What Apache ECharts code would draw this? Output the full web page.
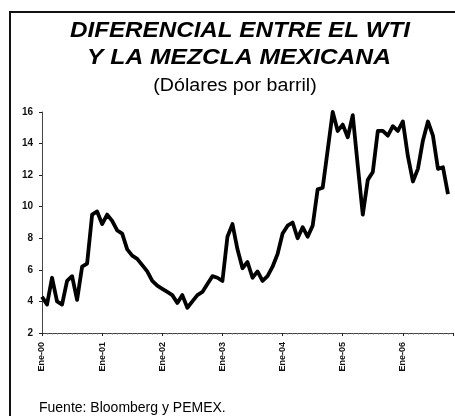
<!DOCTYPE html>
<html>
<head>
<meta charset="utf-8">
<script src="https://cdn.jsdelivr.net/npm/echarts@6/dist/echarts.min.js"></script>
<style>
html,body{margin:0;padding:0;background:#fff;}
#chart{width:455px;height:416px;}
</style>
</head>
<body>
<div id="chart"></div>
<script>
// Monthly differential WTI - Mexican mix, Jan 2000 .. Oct 2006 (USD/barrel)
var values = [
  4.3, 3.8, 5.5, 4.0, 3.8, 5.3, 5.6, 4.1, 6.2, 6.4, 9.5, 9.7,
  8.9, 9.5, 9.1, 8.5, 8.3, 7.3, 6.9, 6.7, 6.3, 5.9, 5.3, 5.0,
  4.8, 4.6, 4.4, 3.9, 4.4, 3.6, 4.0, 4.4, 4.6, 5.1, 5.6, 5.5,
  5.3, 8.1, 8.9, 7.3, 6.1, 6.5, 5.5, 5.9, 5.3, 5.6, 6.2, 7.0,
  8.3, 8.8, 9.0, 8.0, 8.7, 8.1, 8.8, 11.1, 11.2, 13.6, 16.0, 14.8,
  15.2, 14.4, 15.8, 12.6, 9.5, 11.7, 12.2, 14.8, 14.8, 14.5, 15.1, 14.8,
  15.4, 13.2, 11.6, 12.4, 14.2, 15.4, 14.5, 12.4, 12.5, 10.8
];
var tickLabels = ['Ene-00', 'Ene-01', 'Ene-02', 'Ene-03', 'Ene-04', 'Ene-05', 'Ene-06'];
var titleLines = ['DIFERENCIAL ENTRE EL WTI', 'Y LA MEZCLA MEXICANA'];
var subtitle = '(Dólares por barril)';
var source = 'Fuente: Bloomberg y PEMEX.';

var chart = echarts.init(document.getElementById('chart'), null, {renderer: 'canvas'});
var seriesData = values.map(function (v, i) { return [i, v]; });

chart.setOption({
  animation: false,
  backgroundColor: '#fff',
  grid: {left: 42, right: 2, top: 112, bottom: 83, containLabel: false},
  xAxis: {
    type: 'value',
    min: 0,
    max: 82,
    interval: 12,
    axisLine: {show: true, onZero: false, lineStyle: {color: '#444', width: 1}},
    axisTick: {show: true, length: 3, lineStyle: {color: '#222', width: 1}},
    minorTick: {show: true, splitNumber: 12, length: 2, lineStyle: {color: '#888', width: 0.6}},
    splitLine: {show: false},
    axisLabel: {
      rotate: 90,
      margin: 9,
      fontFamily: 'Liberation Sans, Arial, sans-serif',
      fontWeight: 'bold',
      fontSize: 9,
      color: '#111',
      showMaxLabel: false,
      formatter: function (v) { var k = Math.round(v / 12); return tickLabels[k] || ''; }
    }
  },
  yAxis: {
    type: 'value',
    min: 2,
    max: 16,
    interval: 2,
    axisLine: {show: true, lineStyle: {color: '#444', width: 1}},
    axisTick: {show: true, length: 3, lineStyle: {color: '#222', width: 1}},
    splitLine: {show: false},
    axisLabel: {
      margin: 9,
      fontFamily: 'Liberation Sans, Arial, sans-serif',
      fontWeight: 'bold',
      fontSize: 10,
      color: '#111'
    }
  },
  series: [{
    type: 'line',
    data: seriesData,
    showSymbol: false,
    symbol: 'none',
    lineStyle: {color: '#000', width: 3.8, join: 'round'},
    smooth: false
  }],
  graphic: [
    {type: 'rect', z: -1, shape: {x: 10, y: 12, width: 470, height: 430},
     style: {fill: 'none', stroke: '#111', lineWidth: 2}},
    {type: 'text', x: 240, y: 31, scaleX: 1.1, style: {text: titleLines[0], textAlign: 'center', textVerticalAlign: 'middle',
      font: 'italic bold 22px "Liberation Sans", Arial, sans-serif', fill: '#000'}},
    {type: 'text', x: 239, y: 58, scaleX: 1.12, style: {text: titleLines[1], textAlign: 'center', textVerticalAlign: 'middle',
      font: 'italic bold 22px "Liberation Sans", Arial, sans-serif', fill: '#000'}},
    {type: 'text', x: 235, y: 86, scaleX: 1.12, style: {text: subtitle, textAlign: 'center', textVerticalAlign: 'middle',
      font: '17.5px "Liberation Sans", Arial, sans-serif', fill: '#000'}},
    {type: 'text', x: 39, y: 408, style: {text: source, textAlign: 'left', textVerticalAlign: 'middle',
      font: '14px "Liberation Sans", Arial, sans-serif', fill: '#000'}}
  ]
});
</script>
</body>
</html>
